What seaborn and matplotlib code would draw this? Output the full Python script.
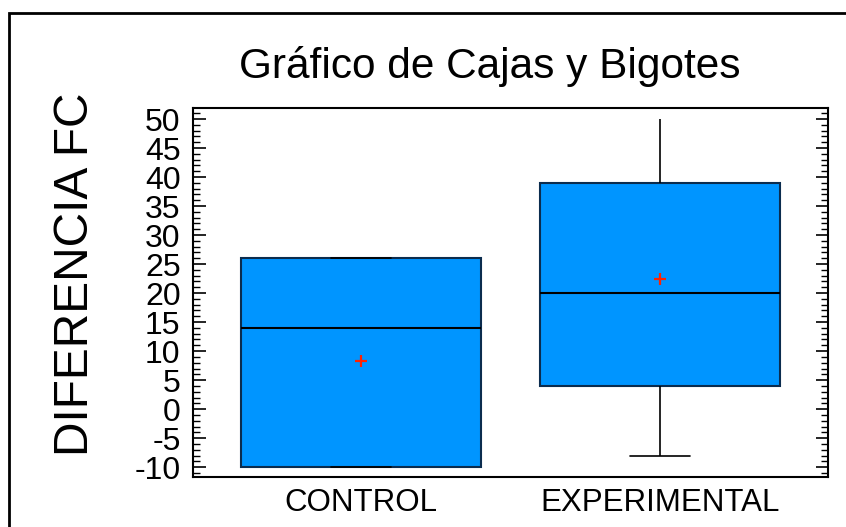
import numpy as np
import pandas as pd
import seaborn as sns
import matplotlib
matplotlib.use("Agg")
import matplotlib.pyplot as plt
from matplotlib.patches import Rectangle
from matplotlib.ticker import MultipleLocator

# ================================
# Data
# ================================
grupos = ["CONTROL", "EXPERIMENTAL"]
control = [-10, -10, -10, -2, 14, 15, 26, 26, 26]
experimental = [-8, 4, 4, 16, 20, 38, 39, 39, 50]

titulo = "Gráfico de Cajas y Bigotes"
etiqueta_y = "DIFERENCIA FC"

df = pd.DataFrame({
    "grupo": [grupos[0]] * len(control) + [grupos[1]] * len(experimental),
    "dif": control + experimental,
})

# ================================
# Style
# ================================
sns.set_style("white")
plt.rcParams["font.family"] = ["Liberation Sans", "DejaVu Sans"]
plt.rcParams["axes.unicode_minus"] = False
plt.rcParams["text.color"] = "black"
plt.rcParams["xtick.color"] = "black"
plt.rcParams["ytick.color"] = "black"

fig = plt.figure(figsize=(8.46, 5.27), dpi=100)
ax = fig.add_axes([193 / 846, 1 - 477 / 527, (828 - 193) / 846, (477 - 108) / 527])

sns.boxplot(
    data=df, x="grupo", y="dif", order=grupos, ax=ax,
    color="#0095FF", saturation=1, width=0.8,
    linecolor="#0B2C4E", linewidth=1.5,
    medianprops={"color": "black", "linewidth": 1.5},
    whiskerprops={"color": "black", "linewidth": 1.2},
    capprops={"color": "black", "linewidth": 1.2},
    capwidths=0.2,
    showmeans=True,
    meanprops={"marker": "+", "markeredgecolor": "#FF2200",
               "markersize": 8, "markeredgewidth": 1.6},
)

# no cap on the upper whisker
for ln in ax.lines:
    yd = np.asarray(ln.get_ydata(), dtype=float)
    if len(yd) == 2 and yd[0] == yd[1] == max(experimental):
        ln.set_visible(False)

ax.set_xlim(-0.56, 1.56)
ax.set_ylim(-11.7, 51.9)
ax.yaxis.set_major_locator(MultipleLocator(5))
ax.yaxis.set_minor_locator(MultipleLocator(1))
ax.tick_params(axis="y", which="major", direction="in", length=9, width=1.2,
               left=True, right=True, labelsize=23, pad=9)
ax.tick_params(axis="y", which="minor", direction="in", length=5, width=1,
               left=True, right=True)
ax.tick_params(axis="x", length=0, labelsize=22.5, pad=8)
ax.set_xlabel("")
ax.set_ylabel("")
for sp in ax.spines.values():
    sp.set_color("black")
    sp.set_linewidth(1.5)

fig.text(490 / 846, 1 - 78 / 527, titulo, fontsize=30.5,
         ha="center", va="baseline")
fig.text(75 / 846, 1 - 274 / 527, etiqueta_y, fontsize=34.5, rotation=90,
         ha="center", va="center")

# outer frame (cut at right and bottom edges)
fig.patches.append(Rectangle((9 / 846, -0.1), 1.1, 1.1 - 13 / 527,
                             transform=fig.transFigure, fill=False,
                             edgecolor="black", linewidth=2))

fig.savefig("out.png", dpi=100)
